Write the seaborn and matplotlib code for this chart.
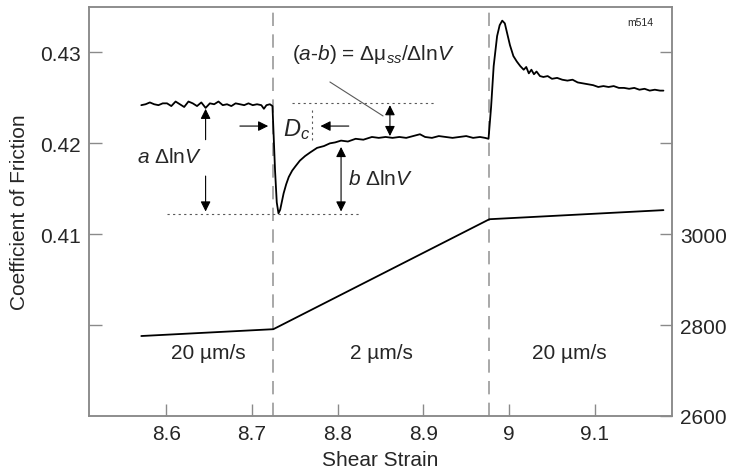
import numpy as np
import matplotlib
matplotlib.use('Agg')
import matplotlib.pyplot as plt
import seaborn as sns
import pandas as pd

# friction trace (left axis)
strain_mu = [8.571, 8.576, 8.581, 8.586, 8.591, 8.596, 8.601, 8.606, 8.611, 8.616,
             8.621, 8.626, 8.631, 8.636, 8.641, 8.646, 8.651, 8.656, 8.661, 8.666,
             8.671, 8.676, 8.681, 8.686, 8.691, 8.696, 8.701, 8.706, 8.711, 8.714,
             8.717, 8.721, 8.724,
             8.727, 8.729, 8.731, 8.733, 8.735, 8.737, 8.740, 8.743, 8.747, 8.751,
             8.756, 8.762, 8.768, 8.776, 8.784, 8.791, 8.797, 8.804, 8.812, 8.821,
             8.830, 8.840, 8.848, 8.856, 8.864, 8.872, 8.880, 8.888, 8.896, 8.902,
             8.910, 8.918, 8.926, 8.934, 8.942, 8.950, 8.958, 8.966, 8.972, 8.976,
             8.979, 8.982, 8.986, 8.989, 8.992, 8.995, 8.998, 9.001, 9.005, 9.009,
             9.013, 9.017, 9.020, 9.023, 9.026, 9.029, 9.032, 9.036, 9.040, 9.045,
             9.050, 9.056, 9.062, 9.068, 9.074, 9.080, 9.086, 9.092, 9.098, 9.104,
             9.110, 9.116, 9.122, 9.128, 9.134, 9.140, 9.146, 9.152, 9.158, 9.164,
             9.170, 9.176, 9.180]
mu = [0.4242, 0.4243, 0.4245, 0.4243, 0.4242, 0.4244, 0.4244, 0.4241, 0.4246, 0.4243,
      0.4240, 0.4246, 0.4244, 0.4241, 0.4245, 0.4239, 0.4244, 0.4243, 0.4246, 0.4242,
      0.4243, 0.4241, 0.4244, 0.4243, 0.4242, 0.4244, 0.4242, 0.4243, 0.4242, 0.4238,
      0.4242, 0.4243, 0.4241,
      0.4170, 0.4135, 0.4123, 0.4127, 0.4136, 0.4145, 0.4155, 0.4163, 0.4170, 0.4175,
      0.4181, 0.4186, 0.4190, 0.4195, 0.4197, 0.4200, 0.4201, 0.4203, 0.4202, 0.4205,
      0.4204, 0.4207, 0.4206, 0.4207, 0.4206, 0.4207, 0.4206, 0.4208, 0.4210, 0.4207,
      0.4206, 0.4208, 0.4207, 0.4206, 0.4207, 0.4208, 0.4206, 0.4207, 0.4206, 0.4205,
      0.4240, 0.4285, 0.4318, 0.4330, 0.4335, 0.4332, 0.4320, 0.4308, 0.4296, 0.4290,
      0.4285, 0.4281, 0.4284, 0.4277, 0.4281, 0.4276, 0.4279, 0.4274, 0.4273, 0.4274,
      0.4271, 0.4272, 0.4270, 0.4269, 0.4270, 0.4267, 0.4266, 0.4265, 0.4264, 0.4262,
      0.4263, 0.4262, 0.4263, 0.4261, 0.4261, 0.4260, 0.4261, 0.4259, 0.4260, 0.4258,
      0.4259, 0.4258, 0.4258]

# load point displacement (right axis)
strain_disp = [8.571, 8.725, 8.977, 9.180]
disp = [2776, 2791, 3033, 3053]

step_strain = [8.725, 8.977]
velocity_labels = ['20 µm/s', '2 µm/s', '20 µm/s']
velocity_x = [8.649, 8.851, 9.070]

mu_yticks = [0.40, 0.41, 0.42, 0.43]
mu_ylabels = ['', '0.41', '0.42', '0.43']
disp_yticks = [2600, 2800, 3000, 3200, 3400]
disp_ylabels = ['2600', '2800', '3000', '', '']
strain_ticks = [8.6, 8.7, 8.8, 8.9, 9.0, 9.1]
strain_labels = ['8.6', '8.7', '8.8', '8.9', '9', '9.1']

# reference levels used for the annotation guides
mu_before = 0.4244
mu_min = 0.4122
mu_after = 0.4207

sns.set_style('white')
plt.rcParams['font.family'] = ['Liberation Sans', 'DejaVu Sans']
plt.rcParams['mathtext.fontset'] = 'custom'
plt.rcParams['mathtext.rm'] = 'Liberation Sans'
plt.rcParams['mathtext.it'] = 'Liberation Sans:italic'

spine_col = '#8a8a8a'
fs = 15

fig, ax = plt.subplots(figsize=(7.31, 4.77), dpi=100)
fig.subplots_adjust(left=89/731, right=672/731, top=1-8/477, bottom=1-417/477)

df_mu = pd.DataFrame({'strain': strain_mu, 'mu': mu})
sns.lineplot(data=df_mu, x='strain', y='mu', ax=ax, color='black', lw=1.3,
             estimator=None, sort=False)
ax.set_xlim(8.51, 9.19)
ax.set_ylim(0.39, 0.435)

for s in step_strain:
    ax.axvline(s, color='#9a9a9a', lw=1.2, ls=(0, (8, 5)), zorder=1)

ax2 = ax.twinx()
df_d = pd.DataFrame({'strain': strain_disp, 'disp': disp})
sns.lineplot(data=df_d, x='strain', y='disp', ax=ax2, color='black', lw=1.3,
             estimator=None, sort=False)
ax2.set_ylim(2600, 3500)

ax.set_yticks(mu_yticks)
ax.set_yticklabels(mu_ylabels)
ax.set_xticks(strain_ticks)
ax.set_xticklabels(strain_labels)
ax2.set_yticks(disp_yticks)
ax2.set_yticklabels(disp_ylabels)
ax2.set_ylabel('')
ax.set_xlabel('Shear Strain', fontsize=fs, labelpad=5)
ax.set_ylabel('Coefficient of Friction', fontsize=fs, labelpad=8)

for a in (ax, ax2):
    for sp in a.spines.values():
        sp.set_color(spine_col)
        sp.set_linewidth(1.1)
ax.tick_params(axis='both', direction='in', length=9, width=1, color=spine_col,
               labelsize=fs, pad=6, left=True, bottom=True, right=False, top=False)
ax2.tick_params(axis='y', direction='in', length=9, width=1, color=spine_col,
                labelsize=fs, pad=6, right=True, left=False)

# annotation guides
ax.hlines(mu_before, 8.747, 8.912, colors='0.35', lw=0.8, ls=(0, (2, 3)))
ax.hlines(mu_min, 8.601, 8.826, colors='0.35', lw=0.8, ls=(0, (2, 3)))
ax.vlines(8.770, mu_after - 0.0003, mu_before - 0.0006, colors='0.35', lw=0.8, ls=(0, (2, 3)))

arw = dict(arrowstyle='-|>', color='black', lw=0.8, mutation_scale=15, shrinkA=0, shrinkB=0)
# a dlnV
ax.annotate('', xy=(8.646, 0.4238), xytext=(8.646, 0.4204), arrowprops=arw)
ax.annotate('', xy=(8.646, 0.4125), xytext=(8.646, 0.4164), arrowprops=arw)
ax.text(8.604, 0.4185, r'$a$ Δln$V$', fontsize=fs, ha='center', va='center')
# Dc
ax.annotate('', xy=(8.719, 0.4219), xytext=(8.686, 0.4219), arrowprops=arw)
ax.annotate('', xy=(8.780, 0.4219), xytext=(8.813, 0.4219), arrowprops=arw)
ax.text(8.736, 0.4216, r'$D_c$', fontsize=fs + 2, ha='left', va='center')
# b dlnV
arw2 = dict(arrowstyle='<|-|>', color='black', lw=0.8, mutation_scale=15, shrinkA=0, shrinkB=0)
ax.annotate('', xy=(8.804, 0.4196), xytext=(8.804, 0.4125), arrowprops=arw2)
ax.text(8.812, 0.4161, r'$b$ Δln$V$', fontsize=fs, ha='left', va='center')
# (a-b)
ax.annotate('', xy=(8.861, mu_before - 0.0002), xytext=(8.861, mu_after + 0.0001), arrowprops=arw2)
ax.plot([8.791, 8.853], [0.42675, 0.42301], color='0.35', lw=0.8)
ax.text(8.747, 0.4299, r'($a$-$b$) = Δμ$_{ss}$/Δln$V$', fontsize=fs, ha='left', va='center')

for lab, xv in zip(velocity_labels, velocity_x):
    ax.text(xv, 0.3970, lab, fontsize=fs, ha='center', va='center')

ax.text(0.945, 0.975, 'm514', transform=ax.transAxes, fontsize=7.5, ha='center', va='top')

fig.savefig('out.png', dpi=100)
